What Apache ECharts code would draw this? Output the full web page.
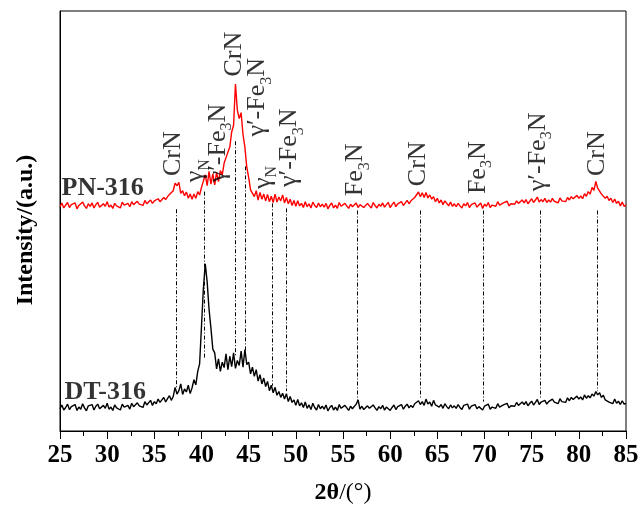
<!DOCTYPE html>
<html>
<head>
<meta charset="utf-8">
<script src="https://cdn.jsdelivr.net/npm/echarts@6/dist/echarts.min.js"></script>
<style>
html,body{margin:0;padding:0;background:#fff;}
#chart{width:643px;height:510px;}
</style>
</head>
<body>
<div id="chart"></div>
<script>
// sampling grid of the diffractogram (degrees 2θ)
const angleStart = 25;
const angleStep = 0.2;

// DT-316 intensity (black), one value per 0.2° from 25° to 85°
const dtIntensity = [
  5.3,6.2,5.0,5.6,6.4,5.1,5.8,5.4,6.3,4.9,
  5.7,5.2,6.5,5.5,4.8,6.0,5.6,6.3,5.0,5.9,
  6.4,5.3,5.1,6.1,5.4,6.6,5.2,5.7,4.9,6.2,
  5.5,5.9,5.0,6.4,5.7,5.3,6.1,5.2,6.6,5.8,
  5.4,6.7,6.0,6.3,5.6,7.0,6.2,6.6,7.3,6.1,
  7.0,6.5,7.6,6.8,7.2,8.0,6.9,7.7,8.4,7.3,
  8.2,10.4,8.8,9.6,11.2,8.7,10.0,9.3,10.9,8.9,
  10.3,12.2,11.0,14.2,16.0,25.0,34.0,39.8,35.5,29.0,
  24.5,19.5,18.6,14.8,17.2,14.2,16.4,15.1,18.4,14.6,
  17.8,15.3,18.6,14.9,16.8,15.6,19.0,15.2,19.4,15.8,
  16.4,13.6,15.2,13.0,14.6,11.9,13.4,11.2,12.6,10.6,
  11.8,9.6,10.9,9.1,10.4,8.5,9.4,8.0,9.0,7.6,
  8.9,7.0,8.2,6.8,7.4,6.1,7.5,6.0,6.7,5.6,
  6.9,5.4,6.2,5.1,6.6,5.6,5.0,6.3,5.3,5.9,
  5.2,6.2,4.8,5.6,6.1,5.0,5.7,4.9,6.3,5.4,
  5.0,6.1,5.5,4.9,5.9,5.3,5.6,6.4,7.4,5.2,
  5.9,5.1,4.8,6.0,5.4,5.0,6.2,5.5,4.9,5.8,
  5.3,6.1,5.0,5.7,6.0,4.9,5.6,6.2,5.1,5.8,
  5.4,6.3,5.2,5.9,6.4,5.5,6.1,5.6,6.5,6.2,
  7.2,6.3,7.0,6.1,7.6,6.4,6.9,5.9,7.3,6.2,
  6.6,5.7,6.3,5.4,6.5,5.8,5.3,6.2,5.5,6.0,
  5.4,6.3,5.6,5.1,6.1,5.7,6.4,5.2,5.9,5.5,
  6.3,5.3,5.8,6.2,5.0,5.9,5.5,6.4,5.2,5.7,
  6.1,5.4,6.5,5.7,5.3,6.2,5.8,6.6,5.5,6.0,
  6.4,5.9,6.8,6.1,5.8,6.9,6.3,7.0,6.0,6.6,
  7.1,6.2,6.8,7.5,6.3,6.9,6.5,7.3,6.4,7.0,
  6.6,7.6,6.9,7.3,6.5,7.7,7.0,7.4,6.8,7.9,
  7.2,8.0,7.5,7.1,8.3,7.6,8.1,7.4,8.6,7.8,
  8.4,7.9,8.8,8.3,9.4,8.6,9.1,8.0,8.5,7.4,
  7.8,6.9,7.3,6.5,7.6,6.6,7.1,6.3,7.2,6.4,
  6.6
];

// PN-316 intensity (red), same grid
const pnIntensity = [
  53.4,54.3,53.1,53.8,54.4,53.2,53.9,53.5,54.3,52.9,
  53.7,53.3,54.5,53.6,53.0,54.1,53.5,54.3,53.1,53.9,
  54.4,53.3,53.2,54.1,53.5,54.6,53.3,53.8,53.0,54.2,
  53.6,54.0,53.1,54.5,53.8,53.4,54.2,53.4,54.6,53.9,
  53.5,54.7,54.0,54.3,53.7,54.9,54.1,54.5,55.0,54.2,
  54.8,54.4,55.3,54.6,55.0,55.6,55.1,55.8,56.3,56.0,
  57.2,59.0,58.4,59.2,56.6,57.2,56.0,56.9,55.4,56.4,
  55.2,56.4,55.4,57.0,56.2,58.0,57.6,61.0,58.4,61.8,
  58.8,61.2,58.6,61.6,59.4,62.0,61.0,63.8,63.4,66.4,
  67.6,71.2,72.8,82.6,76.4,74.4,75.8,70.6,67.6,62.8,
  60.4,57.4,57.8,55.8,57.2,55.0,56.8,55.2,56.4,54.8,
  56.3,54.6,55.9,54.4,56.4,54.5,55.7,54.8,56.2,54.3,
  55.6,54.1,55.2,53.7,54.9,53.5,54.8,53.6,54.2,53.2,
  54.6,53.4,54.1,53.1,54.5,53.7,53.2,54.3,53.4,54.0,
  53.3,54.2,52.9,53.7,54.3,53.1,53.8,53.0,54.4,53.5,
  53.1,54.2,53.6,53.0,54.0,53.4,53.7,54.3,53.2,53.9,
  54.1,53.2,53.0,54.2,53.6,53.1,54.4,53.7,53.1,54.0,
  53.5,54.3,53.3,53.9,54.4,53.2,53.9,54.5,53.4,54.1,
  53.8,54.6,53.7,54.3,54.9,54.1,54.8,54.5,55.6,55.4,
  56.9,55.8,56.7,55.6,56.8,55.5,56.2,55.2,55.8,54.6,
  55.4,54.3,55.0,53.9,54.8,54.2,53.6,54.5,53.5,54.1,
  53.4,54.2,53.6,53.1,54.1,53.6,54.4,53.2,53.9,53.5,
  54.3,53.3,53.8,54.3,53.0,54.0,53.5,54.4,53.2,53.8,
  54.2,53.5,54.6,53.8,53.4,54.3,53.9,54.7,53.6,54.1,
  54.5,54.0,54.8,54.2,53.9,55.0,54.3,55.1,54.1,54.7,
  55.3,54.4,55.0,55.7,54.5,55.1,54.6,55.4,54.4,55.0,
  54.5,55.4,54.7,55.1,54.3,55.5,54.8,55.2,54.6,55.6,
  55.0,55.8,55.3,54.9,56.1,55.4,56.0,55.3,56.5,55.9,
  57.0,56.4,58.0,57.3,59.4,57.8,58.2,56.4,56.6,55.4,
  55.9,54.9,55.4,54.4,55.2,54.2,54.7,53.6,54.5,53.5,
  53.8
];

// reference peak positions (dash-dot drop lines) and their vertical extent
const peakLineAngle  = [37.3, 40.25, 43.6, 44.6, 47.55, 49.0, 56.5, 63.2, 69.9, 75.9, 82.0];
const peakLineTop    = [52.8, 57.0, 69.0, 63.0, 54.2, 53.0, 52.5, 52.5, 52.5, 52.5, 52.5];
const peakLineBottom = [10.4, 17.0, 18.0, 18.5, 10.8, 9.5, 7.0, 7.5, 7.0, 7.5, 9.5];

// phase labels (rich text: m = main, s = subscript)
const phaseLabelText = [
  '{m|CrN}',
  '{m|γ}{s|N}',
  '{m|γ′-Fe}{s|3}{m|N}',
  '{m|CrN}',
  '{m|γ′-Fe}{s|3}{m|N}',
  '{m|γ}{s|N}',
  '{m|γ′-Fe}{s|3}{m|N}',
  '{m|Fe}{s|3}{m|N}',
  '{m|CrN}',
  '{m|Fe}{s|3}{m|N}',
  '{m|γ′-Fe}{s|3}{m|N}',
  '{m|CrN}'
];
const phaseLabelAngle = [37.04, 39.37, 41.75, 43.45, 45.94, 46.5, 49.33, 56.33, 63.0, 69.33, 75.69, 81.9];
const phaseLabelBase  = [60.7, 59.2, 59.2, 84.4, 70.1, 57.6, 58.1, 55.9, 58.3, 56.4, 57.1, 60.7];

// sample names
const sampleNames = ['PN-316', 'DT-316'];
const sampleNameAngle = [25.16, 25.48];
const sampleNameLevel = [57.8, 9.2];

const FONT = '"Liberation Serif", "Times New Roman", serif';

function toPairs(arr) {
  return arr.map((v, i) => [Math.round((angleStart + i * angleStep) * 10) / 10, v]);
}

const chart = echarts.init(document.getElementById('chart'), null, {renderer: 'canvas'});

const option = {
  animation: false,
  backgroundColor: '#fff',
  grid: {left: 60, right: 17, top: 11, bottom: 77, show: true, borderColor: '#000', borderWidth: 1, backgroundColor: 'transparent'},
  xAxis: {
    type: 'value', min: 25, max: 85, interval: 5,
    axisLine: {show: true, lineStyle: {color: '#000', width: 1}},
    axisTick: {show: true, length: 8, lineStyle: {color: '#000', width: 1}},
    minorTick: {show: true, splitNumber: 2, length: 5, lineStyle: {color: '#000', width: 1}},
    splitLine: {show: false},
    minorSplitLine: {show: false},
    axisLabel: {fontFamily: FONT, fontWeight: 'bold', fontSize: 25, color: '#000', margin: 12},
    name: '{b|2θ}{r|/(°)}',
    nameLocation: 'middle',
    nameGap: 50,
    nameTextStyle: {
      color: '#000',
      rich: {
        b: {fontFamily: FONT, fontWeight: 'bold', fontSize: 24, color: '#000'},
        r: {fontFamily: FONT, fontWeight: 'normal', fontSize: 24, color: '#000'}
      }
    }
  },
  yAxis: {
    type: 'value', min: 0, max: 100,
    axisLine: {show: true, lineStyle: {color: '#000', width: 1}},
    axisTick: {show: false},
    axisLabel: {show: false},
    splitLine: {show: false},
    name: 'Intensity/(a.u.)',
    nameLocation: 'middle',
    nameGap: 22,
    nameTextStyle: {fontFamily: FONT, fontWeight: 'bold', fontSize: 24, color: '#000', padding: [0, 18, 0, 0]}
  },
  series: [
    {
      name: 'PN-316', type: 'line', data: toPairs(pnIntensity), showSymbol: false,
      lineStyle: {color: '#ff0000', width: 1.4}, itemStyle: {color: '#ff0000'}, z: 3
    },
    {
      name: 'DT-316', type: 'line', data: toPairs(dtIntensity), showSymbol: false,
      lineStyle: {color: '#000', width: 1.4}, itemStyle: {color: '#000'}, z: 3,
      markLine: {
        silent: true, symbol: 'none', animation: false, z: 2,
        lineStyle: {color: '#000', width: 1, type: [4, 2, 1, 2]},
        label: {show: false},
        data: peakLineAngle.map((a, i) => [{coord: [a, peakLineTop[i]]}, {coord: [a, peakLineBottom[i]]}])
      }
    },
    {
      name: 'phases', type: 'scatter', symbolSize: 0, silent: true, z: 5,
      data: phaseLabelAngle.map((a, i) => ({value: [a, phaseLabelBase[i]], label: {formatter: phaseLabelText[i]}})),
      label: {
        show: true, position: 'inside', rotate: 90, align: 'left', verticalAlign: 'middle',
        rich: {
          m: {fontFamily: FONT, fontSize: 26, lineHeight: 34, color: '#000'},
          s: {fontFamily: FONT, fontSize: 16, verticalAlign: 'bottom', color: '#000'}
        }
      }
    },
    {
      name: 'samples', type: 'scatter', symbolSize: 0, silent: true, z: 5,
      data: sampleNameAngle.map((a, i) => ({value: [a, sampleNameLevel[i]], label: {formatter: sampleNames[i]}})),
      label: {show: true, position: 'inside', align: 'left', verticalAlign: 'middle',
        fontFamily: FONT, fontWeight: 'bold', fontSize: 26, color: '#000'}
    }
  ]
};
chart.setOption(option);
</script>
</body>
</html>
